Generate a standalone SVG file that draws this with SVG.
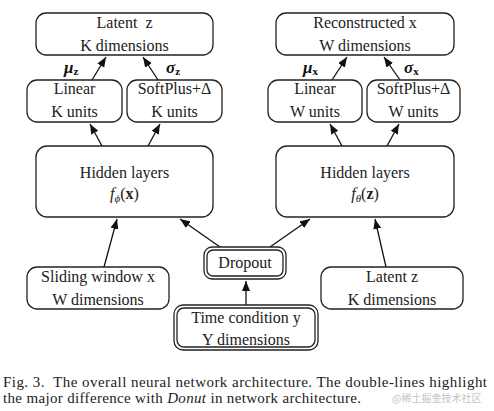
<svg xmlns="http://www.w3.org/2000/svg" width="494" height="411" viewBox="0 0 494 411">
<style>
.box{fill:#fff;stroke:#222;stroke-width:1.3}
.t{font-family:"Liberation Serif","DejaVu Serif",serif;font-size:16px;fill:#222;text-anchor:middle}
.m{font-family:"Liberation Serif","DejaVu Serif",serif;font-size:17px;fill:#111;font-weight:bold;font-style:italic}
.cap{font-family:"Liberation Serif","DejaVu Serif",serif;font-size:15px;fill:#222}
.e{stroke:#111;stroke-width:1.3;fill:none;marker-end:url(#ah)}
</style>
<defs>
<marker id="ah" viewBox="0 0 10 8" refX="10" refY="4" markerWidth="10" markerHeight="8" markerUnits="userSpaceOnUse" orient="auto">
<path d="M0,0 L10,4 L0,8 Z" fill="#111"/>
</marker>
</defs>
<rect width="494" height="411" fill="#fff"/>

<g id="connectors">
<line class="e" x1="92" y1="80" x2="106" y2="57"/>
<line class="e" x1="158" y1="80" x2="143" y2="57"/>
<line class="e" x1="332" y1="80" x2="347" y2="57"/>
<line class="e" x1="400" y1="80" x2="384" y2="57"/>
<line class="e" x1="102" y1="146" x2="90" y2="124"/>
<line class="e" x1="148" y1="146" x2="160" y2="124"/>
<line class="e" x1="342" y1="146" x2="330" y2="124"/>
<line class="e" x1="387" y1="146" x2="399" y2="124"/>
<line class="e" x1="104" y1="267" x2="117" y2="219"/>
<line class="e" x1="220" y1="247" x2="180" y2="219"/>
<line class="e" x1="270" y1="247" x2="310" y2="219"/>
<line class="e" x1="386" y1="267" x2="375" y2="219"/>
<line class="e" x1="246" y1="305" x2="246" y2="281"/>
</g>

<g id="n_latent_top">
<rect class="box" x="36" y="13" width="177" height="42" rx="10"/>
<text class="t" x="124.5" y="28" xml:space="preserve">Latent  z</text>
<text class="t" x="124.5" y="51">K dimensions</text>
</g>
<g id="n_recon">
<rect class="box" x="276" y="13" width="178" height="42" rx="10"/>
<text class="t" x="365" y="28">Reconstructed x</text>
<text class="t" x="365" y="51">W dimensions</text>
</g>

<g id="lbl_mu_z"><text class="m" x="64" y="73">μ<tspan font-style="normal" font-size="11" dy="2">z</tspan></text></g>
<g id="lbl_sigma_z"><text class="m" x="166" y="73">σ<tspan font-style="normal" font-size="11" dy="2">z</tspan></text></g>
<g id="lbl_mu_x"><text class="m" x="303" y="73">μ<tspan font-style="normal" font-size="11" dy="2">x</tspan></text></g>
<g id="lbl_sigma_x"><text class="m" x="404" y="73">σ<tspan font-style="normal" font-size="11" dy="2">x</tspan></text></g>

<g id="n_linear_l">
<rect class="box" x="27" y="80" width="95" height="42" rx="10"/>
<text class="t" x="74.5" y="94">Linear</text>
<text class="t" x="74.5" y="117">K units</text>
</g>
<g id="n_soft_l">
<rect class="box" x="127" y="80" width="95" height="42" rx="10"/>
<text class="t" x="174.5" y="94">SoftPlus+Δ</text>
<text class="t" x="174.5" y="117">K units</text>
</g>
<g id="n_linear_r">
<rect class="box" x="268" y="80" width="94" height="42" rx="10"/>
<text class="t" x="315" y="94">Linear</text>
<text class="t" x="315" y="117">W units</text>
</g>
<g id="n_soft_r">
<rect class="box" x="367" y="80" width="93" height="42" rx="10"/>
<text class="t" x="413.5" y="94">SoftPlus+Δ</text>
<text class="t" x="413.5" y="117">W units</text>
</g>

<g id="n_hidden_l">
<rect class="box" x="36" y="146" width="177" height="71" rx="11"/>
<text class="t" x="124.5" y="178">Hidden layers</text>
<text class="t" x="124.5" y="199"><tspan font-style="italic">f</tspan><tspan font-style="italic" font-size="11" dy="3">ϕ</tspan><tspan dy="-3">(</tspan><tspan font-weight="bold">x</tspan>)</text>
</g>
<g id="n_hidden_r">
<rect class="box" x="276" y="146" width="178" height="71" rx="11"/>
<text class="t" x="365" y="178">Hidden layers</text>
<text class="t" x="365" y="199"><tspan font-style="italic">f</tspan><tspan font-style="italic" font-size="11" dy="3">θ</tspan><tspan dy="-3">(</tspan><tspan font-weight="bold">z</tspan>)</text>
</g>

<g id="n_sliding">
<rect class="box" x="27" y="267" width="142" height="42" rx="10"/>
<text class="t" x="98" y="282">Sliding window x</text>
<text class="t" x="98" y="305">W dimensions</text>
</g>
<g id="n_dropout">
<rect class="box" x="204" y="247" width="82" height="32" rx="8"/>
<rect class="box" x="207" y="250" width="76" height="26" rx="6"/>
<text class="t" x="245" y="268">Dropout</text>
</g>
<g id="n_latent_bottom">
<rect class="box" x="321" y="267" width="142" height="42" rx="10"/>
<text class="t" x="392" y="282">Latent z</text>
<text class="t" x="392" y="305">K dimensions</text>
</g>
<g id="n_time">
<rect class="box" x="174" y="305" width="144" height="45" rx="9"/>
<rect class="box" x="177" y="308" width="138" height="39" rx="7"/>
<text class="t" x="246" y="323">Time condition y</text>
<text class="t" x="246" y="345">Y dimensions</text>
</g>

<g id="caption">
<text class="cap" x="3" y="387" textLength="484" lengthAdjust="spacing" xml:space="preserve">Fig. 3.  The overall neural network architecture. The double-lines highlight</text>
<text class="cap" x="3" y="403" textLength="358" lengthAdjust="spacing">the major difference with <tspan font-style="italic">Donut</tspan> in network architecture.</text>
<text x="392" y="402" font-family="'Noto Sans CJK SC',sans-serif" font-size="10" fill="#c4c4c4">@稀土掘金技术社区</text>
</g>
</svg>
